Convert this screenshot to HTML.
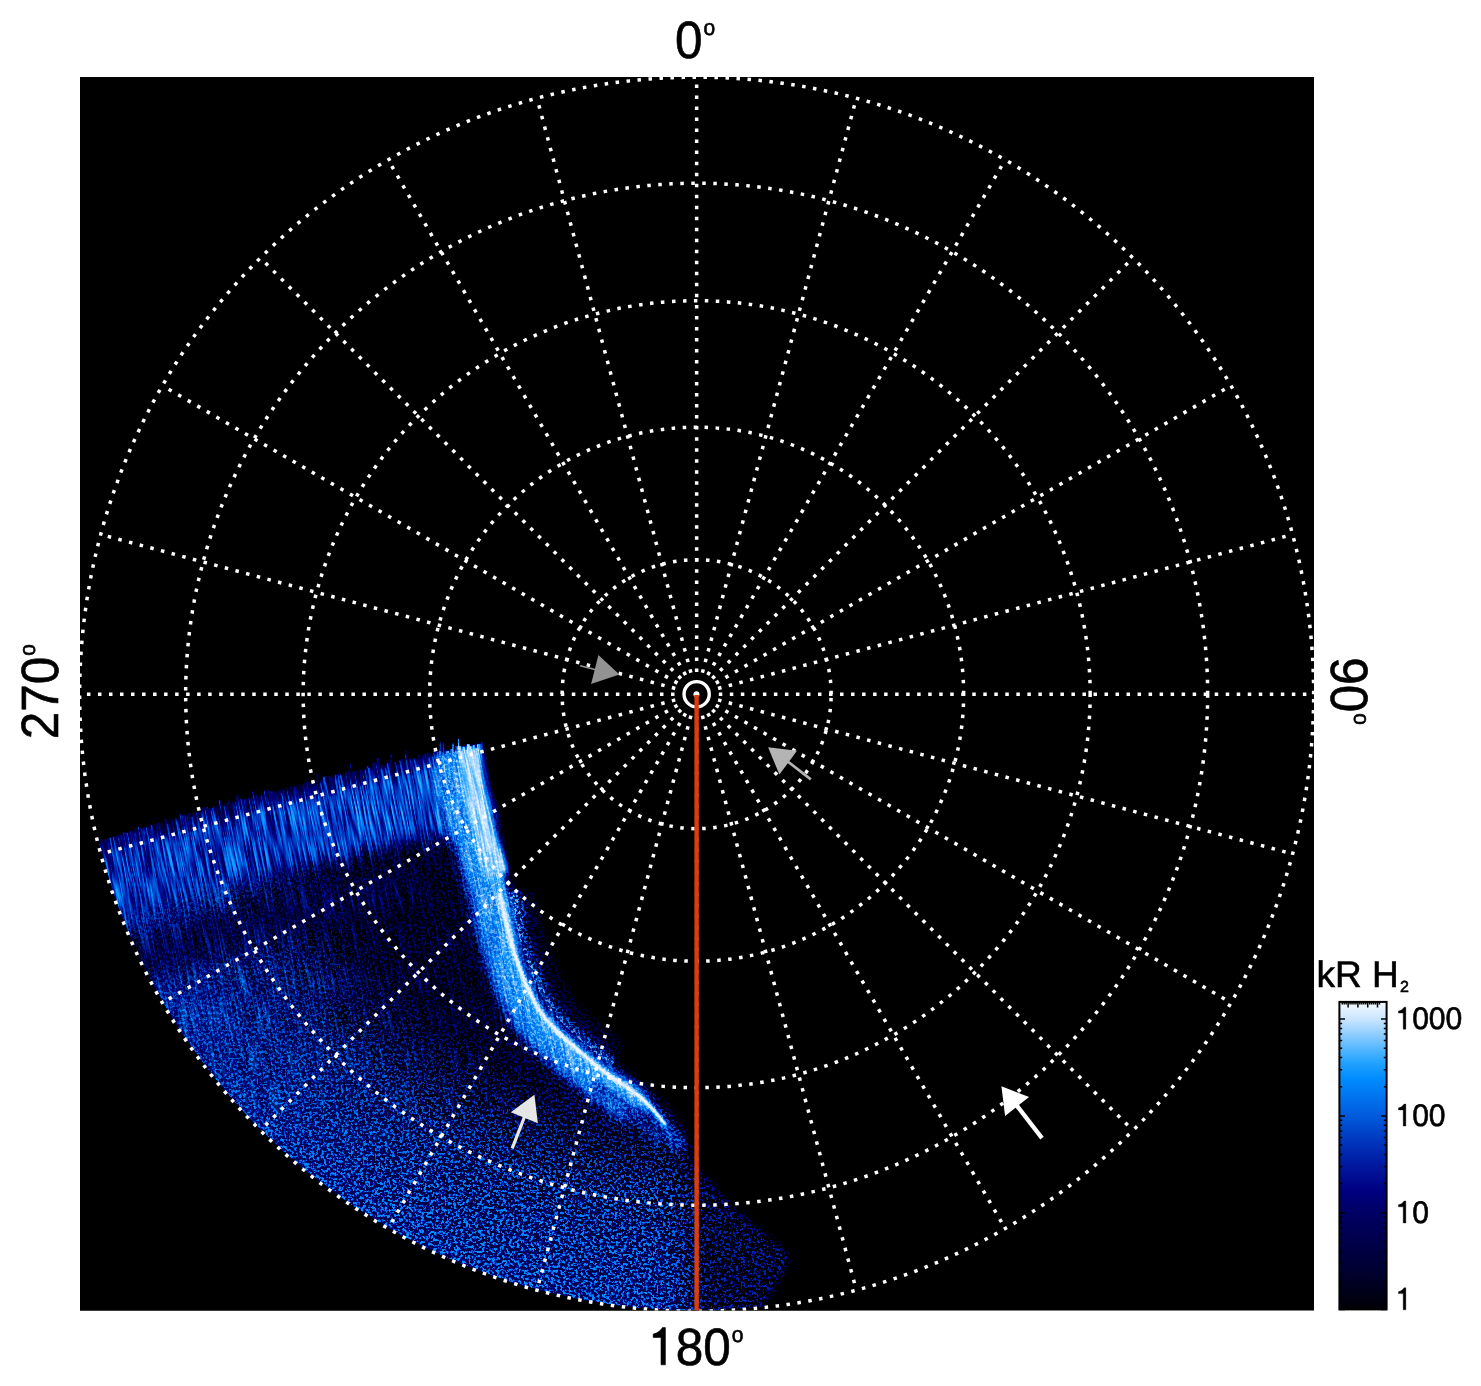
<!DOCTYPE html>
<html><head><meta charset="utf-8"><title>polar projection</title>
<style>
html,body{margin:0;padding:0;background:#fff}
body{width:1481px;height:1386px;overflow:hidden}
svg{display:block}
text{font-family:"Liberation Sans",sans-serif;fill:#000;stroke:#000;stroke-width:0.6px;text-rendering:geometricPrecision}
</style></head><body>
<svg width="1481" height="1386" viewBox="0 0 1481 1386">
<defs>
<clipPath id="frame"><rect x="80.0" y="77.0" width="1234.0" height="1233.5"/></clipPath>
<linearGradient id="cb" x1="0" y1="1" x2="0" y2="0">
<stop offset="0.000" stop-color="rgb(0,0,5)"/>
<stop offset="0.129" stop-color="rgb(0,0,50)"/>
<stop offset="0.314" stop-color="rgb(0,0,100)"/>
<stop offset="0.388" stop-color="rgb(0,0,130)"/>
<stop offset="0.469" stop-color="rgb(0,25,160)"/>
<stop offset="0.518" stop-color="rgb(0,42,178)"/>
<stop offset="0.628" stop-color="rgb(0,90,220)"/>
<stop offset="0.751" stop-color="rgb(0,140,255)"/>
<stop offset="0.809" stop-color="rgb(40,165,255)"/>
<stop offset="0.942" stop-color="rgb(200,228,255)"/>
<stop offset="1.000" stop-color="rgb(245,250,255)"/>
</linearGradient>
<filter id="b1" x="-30%" y="-30%" width="160%" height="160%" color-interpolation-filters="sRGB"><feGaussianBlur stdDeviation="1.2"/></filter>
<filter id="b3" x="-30%" y="-30%" width="160%" height="160%" color-interpolation-filters="sRGB"><feGaussianBlur stdDeviation="3"/></filter>
<filter id="b4" x="-30%" y="-30%" width="160%" height="160%" color-interpolation-filters="sRGB"><feGaussianBlur stdDeviation="4"/></filter>
<filter id="b6" x="-30%" y="-30%" width="160%" height="160%" color-interpolation-filters="sRGB"><feGaussianBlur stdDeviation="6"/></filter>
<filter id="b10" x="-30%" y="-30%" width="160%" height="160%" color-interpolation-filters="sRGB"><feGaussianBlur stdDeviation="10"/></filter>
<filter id="b16" x="-30%" y="-30%" width="160%" height="160%" color-interpolation-filters="sRGB"><feGaussianBlur stdDeviation="16"/></filter>
<filter id="b25" x="-30%" y="-30%" width="160%" height="160%" color-interpolation-filters="sRGB"><feGaussianBlur stdDeviation="25"/></filter>
<mask id="foot" maskUnits="userSpaceOnUse" x="40" y="680" width="820" height="680"><polygon points="96.0,842.0 139.0,829.0 184.0,816.0 229.0,803.0 273.0,792.0 304.0,785.0 349.0,773.0 393.0,763.0 438.0,752.0 484.0,744.0 492.0,787.0 504.0,828.0 511.0,855.0 518.0,884.0 526.0,910.0 526.8,930.8 534.7,957.1 544.7,982.3 556.7,1003.7 570.6,1019.2 593.7,1039.8 616.8,1058.6 640.2,1074.5 660.6,1091.2 679.5,1113.3 691.4,1132.6 697.0,1162.0 736.0,1205.0 793.0,1252.0 791.0,1268.0 773.0,1297.0 763.0,1313.0 763.0,1340.0 40.0,1340.0 40.0,858.0" fill="#fff" filter="url(#b4)"/><path d="M524.2 888.5C525.9 895.3 531.7 918.1 534.7 929.1C537.7 940.1 539.4 946.1 542.2 954.4C545.1 962.7 548.5 971.4 552.0 978.8C555.5 986.3 559.2 993.3 563.3 999.1C567.3 1004.8 570.3 1007.7 576.3 1013.5C582.2 1019.3 591.2 1027.2 598.9 1033.7C606.6 1040.3 618.5 1049.6 622.4 1052.8" fill="none" stroke="#fff" stroke-opacity="0.5" stroke-width="26" filter="url(#b4)"/><polygon points="98.0,844.4 127.5,835.5 157.1,826.8 186.6,818.2 216.2,809.7 245.7,801.8 275.2,794.5 304.8,787.8 334.3,779.9 363.8,772.6 393.4,765.9 422.9,758.7 452.5,752.5 482.0,747.3 482.0,774.3 452.5,779.5 422.9,785.7 393.4,792.9 363.8,799.6 334.3,806.9 304.8,814.8 275.2,821.5 245.7,828.8 216.2,836.7 186.6,845.2 157.1,853.8 127.5,862.5 98.0,871.4" fill="#fff"/><path d="M100.0 846.8v-7.2h2.5v7.2zM104.5 845.4v-6.0h3v6.0zM107.5 844.5v-7.3h2v7.3zM109.5 843.9v-6.6h2v6.6zM112.5 843.0v-6.9h3.5v6.9zM116.0 842.0v-6.0h2v6.0zM119.0 841.0v-6.4h3v6.4zM122.0 840.1v-7.7h2v7.7zM124.0 839.5v-7.2h3v7.2zM127.0 838.6v-6.2h2v6.2zM129.0 838.0v-7.8h2v7.8zM131.0 837.4v-6.4h2v6.4zM135.0 836.2v-8.6h2v8.6zM137.0 835.6v-9.5h2v9.5zM140.0 834.7v-6.4h2.5v6.4zM143.5 833.7v-6.2h2v6.2zM146.0 833.0v-6.1h2.5v6.1zM150.5 831.7v-7.1h3.5v7.1zM154.5 830.5v-6.1h2.5v6.1zM157.5 829.7v-6.8h2.5v6.8zM160.0 828.9v-6.8h2v6.8zM162.0 828.4v-6.4h2v6.4zM164.5 827.6v-8.4h2v8.4zM168.5 826.5v-8.0h2.5v8.0zM172.0 825.5v-7.1h2v7.1zM175.0 824.6v-6.1h2v6.1zM179.0 823.4v-10.1h2v10.1zM181.0 822.9v-7.9h3v7.9zM184.5 821.9v-7.0h3.5v7.0zM188.5 820.7v-8.0h2v8.0zM192.5 819.5v-7.9h2.5v7.9zM195.5 818.7v-6.1h2v6.1zM197.5 818.1v-6.6h3.5v6.6zM201.5 816.9v-9.6h2.5v9.6zM204.5 816.1v-9.7h3.5v9.7zM208.0 815.1v-6.5h2.5v6.5zM211.0 814.2v-6.3h2v6.3zM213.0 813.6v-7.9h2.5v7.9zM216.5 812.6v-6.3h2v6.3zM218.5 812.0v-12.5h3.5v12.5zM223.0 810.7v-6.0h3.5v6.0zM227.0 809.6v-8.7h3v8.7zM231.0 808.5v-6.2h2v6.2zM234.0 807.8v-6.6h2v6.6zM236.0 807.2v-12.3h3.5v12.3zM239.5 806.4v-7.6h3v7.6zM242.5 805.6v-6.3h2.5v6.3zM245.0 805.0v-6.1h3v6.1zM248.5 804.1v-6.3h3.5v6.3zM252.0 803.2v-12.3h3v12.3zM256.0 802.2v-8.0h2.5v8.0zM259.5 801.4v-6.6h3v6.6zM263.5 800.4v-10.1h2v10.1zM266.5 799.6v-9.1h3.5v9.1zM270.0 798.8v-7.8h3v7.8zM273.5 797.9v-6.4h3v6.4zM277.0 797.1v-7.3h3.5v7.3zM282.5 795.9v-6.8h2.5v6.8zM287.0 794.8v-8.1h2.5v8.1zM290.0 794.2v-7.6h2.5v7.6zM293.5 793.4v-6.6h2.5v6.6zM296.5 792.7v-8.1h3.5v8.1zM300.0 791.9v-7.3h2.5v7.3zM303.0 791.2v-8.3h3v8.3zM306.5 790.3v-9.5h2.5v9.5zM309.5 789.5v-6.7h2.5v6.7zM313.0 788.6v-6.9h2v6.9zM316.0 787.8v-14.0h2.5v14.0zM320.5 786.6v-6.3h2v6.3zM322.5 786.1v-10.0h3v10.0zM326.0 785.1v-8.6h3v8.6zM329.0 784.3v-8.2h3.5v8.2zM334.5 782.9v-8.5h3v8.5zM338.0 781.9v-8.3h2.5v8.3zM340.5 781.3v-6.5h3.5v6.5zM345.0 780.1v-8.4h2v8.4zM347.0 779.5v-9.5h2v9.5zM349.0 779.0v-16.0h2v16.0zM351.0 778.5v-6.1h2v6.1zM353.0 778.1v-7.0h2v7.0zM356.0 777.4v-6.5h2v6.5zM359.0 776.7v-7.6h3v7.6zM364.0 775.6v-6.2h2v6.2zM366.0 775.1v-9.3h2.5v9.3zM368.5 774.6v-7.2h2.5v7.2zM372.0 773.8v-11.4h3.5v11.4zM376.0 772.9v-15.2h3.5v15.2zM381.5 771.6v-7.0h2.5v7.0zM386.0 770.6v-8.1h3.5v8.1zM390.0 769.7v-15.2h2v15.2zM393.0 769.0v-7.5h3.5v7.5zM398.5 767.7v-7.4h2v7.4zM400.5 767.2v-8.7h3.5v8.7zM405.0 766.1v-15.7h2v15.7zM409.0 765.1v-6.3h2v6.3zM412.0 764.4v-6.4h3.5v6.4zM417.5 763.0v-8.5h2.5v8.5zM422.0 761.9v-7.6h3v7.6zM425.0 761.2v-8.3h3v8.3zM429.0 760.2v-7.6h2v7.6zM433.0 759.2v-9.1h2.5v9.1zM436.5 758.4v-7.0h2v7.0zM439.0 757.8v-16.0h2.5v16.0zM442.5 757.2v-15.5h2v15.5zM445.5 756.7v-6.1h3.5v6.1zM450.0 755.9v-7.0h2v7.0zM452.0 755.6v-12.5h2v12.5zM455.0 755.0v-8.8h2.5v8.8zM457.5 754.6v-16.0h2v16.0zM459.5 754.3v-8.6h2v8.6zM462.0 753.8v-7.3h3.5v7.3zM466.5 753.0v-8.9h3.5v8.9zM470.0 752.4v-6.1h2v6.1zM472.5 752.0v-7.3h2.5v7.3zM477.0 751.2v-7.4h3.5v7.4zM480.5 750.6v-8.6h2.5v8.6z" fill="#fff"/></mask>
<clipPath id="disk"><circle cx="696.65" cy="694.2" r="616.5"/></clipPath>
<radialGradient id="limb" gradientUnits="userSpaceOnUse" cx="696.65" cy="694.2" r="617"><stop offset="0.64" stop-color="rgb(146,87,0)" stop-opacity="0"/><stop offset="0.81" stop-color="rgb(146,87,0)" stop-opacity="0.9"/><stop offset="0.91" stop-color="rgb(153,79,0)" stop-opacity="1"/><stop offset="1" stop-color="rgb(162,69,0)" stop-opacity="1"/></radialGradient>
<radialGradient id="limbw" gradientUnits="userSpaceOnUse" cx="696.65" cy="694.2" r="617"><stop offset="0.64" stop-color="rgb(146,87,140)" stop-opacity="0"/><stop offset="0.81" stop-color="rgb(146,87,140)" stop-opacity="0.9"/><stop offset="0.91" stop-color="rgb(153,79,140)" stop-opacity="1"/><stop offset="1" stop-color="rgb(162,69,140)" stop-opacity="1"/></radialGradient>
<linearGradient id="wf" gradientUnits="userSpaceOnUse" x1="0" y1="990" x2="0" y2="1190"><stop offset="0" stop-color="#fff"/><stop offset="1" stop-color="#000"/></linearGradient>
<mask id="wfade" maskUnits="userSpaceOnUse" x="40" y="680" width="820" height="680"><rect x="40" y="680" width="820" height="680" fill="url(#wf)"/></mask>
<filter id="aurS" filterUnits="userSpaceOnUse" x="80" y="700" width="760" height="620" color-interpolation-filters="sRGB"><feColorMatrix in="SourceGraphic" type="matrix" values="1 0 0 0 0 1 0 0 0 0 1 0 0 0 0 0 0 0 0 1" result="I"/><feColorMatrix in="SourceGraphic" type="matrix" values="0 1 0 0 0 0 1 0 0 0 0 1 0 0 0 0 0 0 0 1" result="A"/><feTurbulence type="fractalNoise" baseFrequency="0.33" numOctaves="2" seed="7" result="t1"/><feColorMatrix in="t1" type="matrix" values="3.2 0 0 0 -1.1 3.2 0 0 0 -1.1 3.2 0 0 0 -1.1 0 0 0 0 1" result="Na"/><feTurbulence type="fractalNoise" baseFrequency="0.41" numOctaves="2" seed="23" result="t3"/><feColorMatrix in="t3" type="matrix" values="3.2 0 0 0 -1.1 3.2 0 0 0 -1.1 3.2 0 0 0 -1.1 0 0 0 0 1" result="Nb"/><feComposite in="Na" in2="Nb" operator="arithmetic" k1="1.7" k2="0.1" k3="0.1" k4="-0.03" result="N"/><feComposite in="A" in2="N" operator="arithmetic" k1="2" k2="0" k3="0" k4="0" result="X"/><feComposite in="I" in2="A" operator="arithmetic" k1="0" k2="1" k3="-0.7143" k4="0" result="Y"/><feComposite in="X" in2="Y" operator="arithmetic" k1="0" k2="1" k3="1.4" k4="-0.4" result="V"/><feComponentTransfer in="V"><feFuncR type="table" tableValues="0 0.000 0.000 0.000 0.000 0.000 0.000 0.000 0.000 0.000 0.000 0.000 0.000 0.000 0.000 0.000 0.000 0.000 0.000 0.000 0.000 0.000 0.000 0.000 0.000 0.000 0.000 0.000 0.000 0.000 0.000 0.065 0.133 0.232 0.350 0.468 0.586 0.704 0.809 0.885 0.961"/><feFuncG type="table" tableValues="0 0.000 0.000 0.000 0.000 0.000 0.000 0.000 0.000 0.000 0.000 0.000 0.000 0.000 0.000 0.000 0.015 0.045 0.075 0.106 0.140 0.177 0.219 0.262 0.305 0.348 0.388 0.428 0.468 0.508 0.547 0.590 0.632 0.677 0.723 0.770 0.816 0.863 0.906 0.943 0.980"/><feFuncB type="table" tableValues="0 0.054 0.088 0.122 0.156 0.191 0.218 0.245 0.271 0.298 0.324 0.351 0.377 0.410 0.449 0.489 0.527 0.564 0.600 0.636 0.672 0.709 0.746 0.783 0.821 0.858 0.887 0.915 0.943 0.971 0.999 1.000 1.000 1.000 1.000 1.000 1.000 1.000 1.000 1.000 1.000"/></feComponentTransfer></filter>
<filter id="aurK" filterUnits="userSpaceOnUse" x="-177" y="700" width="881" height="620" color-interpolation-filters="sRGB"><feColorMatrix in="SourceGraphic" type="matrix" values="1 0 0 0 0 1 0 0 0 0 1 0 0 0 0 0 0 0 0 1" result="I"/><feColorMatrix in="SourceGraphic" type="matrix" values="0 1 0 0 0 0 1 0 0 0 0 1 0 0 0 0 0 0 0 1" result="A"/><feTurbulence type="fractalNoise" baseFrequency="0.6 0.025" numOctaves="2" seed="11" result="t2"/><feColorMatrix in="t2" type="matrix" values="2.6 0 0 0 -0.8 2.6 0 0 0 -0.8 2.6 0 0 0 -0.8 0 0 0 0 1" result="N"/><feComposite in="A" in2="N" operator="arithmetic" k1="2" k2="0" k3="0" k4="0" result="X"/><feComposite in="I" in2="A" operator="arithmetic" k1="0" k2="1" k3="-0.7143" k4="0" result="Y"/><feComposite in="X" in2="Y" operator="arithmetic" k1="0" k2="1" k3="1.4" k4="-0.4" result="V"/><feComponentTransfer in="V"><feFuncR type="table" tableValues="0 0.000 0.000 0.000 0.000 0.000 0.000 0.000 0.000 0.000 0.000 0.000 0.000 0.000 0.000 0.000 0.000 0.000 0.000 0.000 0.000 0.000 0.000 0.000 0.000 0.000 0.000 0.000 0.000 0.000 0.000 0.065 0.133 0.232 0.350 0.468 0.586 0.704 0.809 0.885 0.961"/><feFuncG type="table" tableValues="0 0.000 0.000 0.000 0.000 0.000 0.000 0.000 0.000 0.000 0.000 0.000 0.000 0.000 0.000 0.000 0.015 0.045 0.075 0.106 0.140 0.177 0.219 0.262 0.305 0.348 0.388 0.428 0.468 0.508 0.547 0.590 0.632 0.677 0.723 0.770 0.816 0.863 0.906 0.943 0.980"/><feFuncB type="table" tableValues="0 0.054 0.088 0.122 0.156 0.191 0.218 0.245 0.271 0.298 0.324 0.351 0.377 0.410 0.449 0.489 0.527 0.564 0.600 0.636 0.672 0.709 0.746 0.783 0.821 0.858 0.887 0.915 0.943 0.971 0.999 1.000 1.000 1.000 1.000 1.000 1.000 1.000 1.000 1.000 1.000"/></feComponentTransfer></filter>
<filter id="exW" filterUnits="userSpaceOnUse" x="80" y="700" width="760" height="620" color-interpolation-filters="sRGB"><feColorMatrix type="matrix" values="0 0 1 0 0 0 0 1 0 0 0 0 1 0 0 0 0 0 0 1"/></filter>
<mask id="wmask" maskUnits="userSpaceOnUse" x="80" y="700" width="760" height="620"><use href="#adata" filter="url(#exW)"/></mask>
<g id="adata">
<rect x="-220" y="680" width="1360" height="660" fill="#000"/>
<g clip-path="url(#disk)"><g mask="url(#foot)">
<rect x="40" y="700" width="800" height="640" fill="rgb(69,107,26)"/>
<rect x="40" y="700" width="800" height="640" fill="url(#limb)"/>
<g mask="url(#wfade)">
<rect x="40" y="700" width="800" height="640" fill="rgb(69,107,128)"/>
<rect x="40" y="700" width="800" height="640" fill="url(#limbw)"/>
</g>
<polygon points="685.0,1100.0 860.0,1180.0 860.0,1340.0 690.0,1340.0" fill="rgb(69,107,0)" opacity="0.68" filter="url(#b16)"/>
<polygon points="40.0,962.0 69.2,953.6 98.5,945.3 127.7,936.4 156.9,927.8 186.2,919.4 215.4,910.9 244.6,903.1 273.8,895.8 303.1,889.2 332.3,881.5 361.5,874.2 390.8,867.5 420.0,860.4 420.0,908.4 390.8,915.5 361.5,922.2 332.3,929.5 303.1,937.2 273.8,943.8 244.6,951.1 215.4,958.9 186.2,967.4 156.9,975.8 127.7,984.4 98.5,993.3 69.2,1001.6 40.0,1010.0" fill="rgb(109,76,178)" opacity="0.9" filter="url(#b10)"/>
<polygon points="40.0,828.0 70.0,819.4 100.0,810.8 130.0,801.7 160.0,792.9 190.0,784.3 220.0,775.6 250.0,767.8 280.0,760.4 310.0,753.4 340.0,745.4 370.0,738.2 400.0,731.3 430.0,724.0 460.0,718.2 490.0,713.2 520.0,709.3 520.0,823.3 490.0,827.2 460.0,832.2 430.0,838.0 400.0,845.3 370.0,852.2 340.0,859.4 310.0,867.4 280.0,874.4 250.0,881.8 220.0,889.6 190.0,898.3 160.0,906.9 130.0,915.7 100.0,924.8 70.0,933.4 40.0,942.0" fill="rgb(169,66,255)" filter="url(#b10)"/>
<polygon points="300.0,795.9 328.3,788.5 356.7,781.3 385.0,774.8 413.3,768.0 441.7,761.4 470.0,756.4 470.0,826.4 441.7,831.4 413.3,838.0 385.0,844.8 356.7,851.3 328.3,858.5 300.0,865.9" fill="rgb(182,64,255)" opacity="0.7" filter="url(#b16)"/>
<polygon points="40.0,846.0 70.8,837.2 101.5,828.3 132.3,819.0 163.1,810.0 193.8,801.2 224.6,792.3 255.4,784.4 286.2,777.0 316.9,769.6 347.7,761.3 378.5,754.3 409.2,747.0 440.0,739.7 440.0,764.7 409.2,772.0 378.5,779.3 347.7,786.3 316.9,794.6 286.2,802.0 255.4,809.4 224.6,817.3 193.8,826.2 163.1,835.0 132.3,844.0 101.5,853.3 70.8,862.2 40.0,871.0" fill="rgb(118,76,255)" opacity="0.6" filter="url(#b4)"/>
<path d="M524.2 888.5C525.9 895.3 531.7 918.1 534.7 929.1C537.7 940.1 539.4 946.1 542.2 954.4C545.1 962.7 548.5 971.4 552.0 978.8C555.5 986.3 559.2 993.3 563.3 999.1C567.3 1004.8 570.3 1007.7 576.3 1013.5C582.2 1019.3 591.2 1027.2 598.9 1033.7C606.6 1040.3 618.5 1049.6 622.4 1052.8" fill="none" stroke="rgb(168,115,76)" stroke-width="34"/>
<path d="M454.0 745.0C454.5 752.8 455.0 778.7 457.0 792.0C459.0 805.3 462.8 814.5 466.0 825.0C469.2 835.5 472.5 842.5 476.0 855.0C479.5 867.5 483.4 885.7 487.0 900.0C490.6 914.3 494.5 929.7 497.6 941.0C500.7 952.3 502.6 959.0 505.7 968.0C508.9 977.0 512.5 986.5 516.5 995.0C520.5 1003.5 525.1 1012.0 530.0 1019.0C534.9 1026.0 539.3 1030.4 546.0 1037.0C552.7 1043.6 562.0 1051.7 570.0 1058.5C578.0 1065.3 586.1 1072.1 594.0 1078.0C601.9 1083.9 610.5 1088.8 617.5 1094.0C624.5 1099.2 632.9 1106.5 636.0 1109.0" fill="none" stroke="rgb(213,41,128)" stroke-width="40" filter="url(#b6)"/>
<path d="M640.0 1100.0C643.0 1103.2 651.7 1111.5 658.0 1119.0C664.3 1126.5 674.7 1140.7 678.0 1145.0" fill="none" stroke="rgb(186,51,76)" stroke-width="15" stroke-linecap="round" filter="url(#b4)"/>
<path d="M598.0 1086.0C603.0 1090.0 618.0 1101.0 628.0 1110.0C638.0 1119.0 653.0 1135.0 658.0 1140.0" fill="none" stroke="rgb(168,64,76)" stroke-width="11" stroke-linecap="round" filter="url(#b4)"/>
<path d="M468.0 730.0C468.2 732.8 468.0 737.5 469.0 747.0C470.0 756.5 471.5 773.5 474.0 787.0C476.5 800.5 481.0 816.7 484.0 828.0C487.0 839.3 489.5 847.0 492.0 855.0C494.5 863.0 497.8 872.5 499.0 876.0" fill="none" stroke="rgb(242,26,204)" stroke-width="24" filter="url(#b3)"/>
<path d="M490.0 855.0C491.7 860.0 497.2 875.0 500.0 885.0C502.8 895.0 505.0 905.0 507.0 915.0C509.0 925.0 511.2 940.0 512.0 945.0" fill="none" stroke="rgb(233,26,153)" stroke-width="11" stroke-linecap="round" filter="url(#b3)"/>
<path d="M506.6 937.0C508.0 941.5 511.6 955.0 514.7 964.0C517.9 973.0 521.5 982.5 525.5 991.0C529.5 999.5 534.1 1008.0 539.0 1015.0C543.9 1022.0 548.3 1026.4 555.0 1033.0C561.7 1039.6 571.0 1047.7 579.0 1054.5C587.0 1061.3 595.1 1068.1 603.0 1074.0C610.9 1079.9 619.5 1084.8 626.5 1090.0C633.5 1095.2 641.9 1102.5 645.0 1105.0" fill="none" stroke="rgb(226,28,128)" stroke-width="12" stroke-linecap="round" filter="url(#b4)"/>
<path d="M499.0 895.0C500.8 901.8 506.5 924.7 509.6 936.0C512.7 947.3 514.6 954.0 517.7 963.0C520.9 972.0 524.5 981.5 528.5 990.0C532.5 998.5 537.1 1007.0 542.0 1014.0C546.9 1021.0 551.3 1025.4 558.0 1032.0C564.7 1038.6 574.0 1046.7 582.0 1053.5C590.0 1060.3 598.1 1067.1 606.0 1073.0C613.9 1078.9 622.5 1083.8 629.5 1089.0C636.5 1094.2 642.1 1098.2 648.0 1104.0C653.9 1109.8 662.2 1120.7 665.0 1124.0" fill="none" stroke="rgb(255,8,76)" stroke-width="4.6" stroke-linecap="round" filter="url(#b1)"/>
</g></g>
</g>
</defs>
<rect x="0" y="0" width="1481" height="1386" fill="#fff"/>
<rect x="80.0" y="77.0" width="1234.0" height="1233.5" fill="#000"/>
<g clip-path="url(#frame)">
<g filter="url(#aurS)"><use href="#adata"/></g>
<g mask="url(#wmask)"><g transform="skewX(11)"><g filter="url(#aurK)"><g transform="skewX(-11)"><use href="#adata"/></g></g></g></g>
<g fill="none" stroke="#fff" stroke-width="3.5" stroke-dasharray="3.5 7.52">
<g transform="translate(696.65,694.2) scale(1,-1)">
<circle cx="0" cy="0" r="617.0"/>
<circle cx="0" cy="0" r="511.0"/>
<circle cx="0" cy="0" r="393.5"/>
<circle cx="0" cy="0" r="267.0"/>
<circle cx="0" cy="0" r="134.5"/>
</g>
<line x1="696.65" y1="672.05" x2="696.65" y2="77.20"/>
<line x1="702.38" y1="672.80" x2="856.34" y2="98.22"/>
<line x1="707.73" y1="675.02" x2="1005.15" y2="159.86"/>
<line x1="712.31" y1="678.54" x2="1132.93" y2="257.92"/>
<line x1="715.83" y1="683.12" x2="1230.99" y2="385.70"/>
<line x1="718.05" y1="688.47" x2="1292.63" y2="534.51"/>
<line x1="718.80" y1="694.20" x2="1313.65" y2="694.20"/>
<line x1="718.05" y1="699.93" x2="1292.63" y2="853.89"/>
<line x1="715.83" y1="705.28" x2="1230.99" y2="1002.70"/>
<line x1="712.31" y1="709.86" x2="1132.93" y2="1130.48"/>
<line x1="707.73" y1="713.38" x2="1005.15" y2="1228.54"/>
<line x1="702.38" y1="715.60" x2="856.34" y2="1290.18"/>
<line x1="696.65" y1="716.35" x2="696.65" y2="1311.20"/>
<line x1="690.92" y1="715.60" x2="536.96" y2="1290.18"/>
<line x1="685.57" y1="713.38" x2="388.15" y2="1228.54"/>
<line x1="680.99" y1="709.86" x2="260.37" y2="1130.48"/>
<line x1="677.47" y1="705.28" x2="162.31" y2="1002.70"/>
<line x1="675.25" y1="699.93" x2="100.67" y2="853.89"/>
<line x1="674.50" y1="694.20" x2="79.65" y2="694.20"/>
<line x1="675.25" y1="688.47" x2="100.67" y2="534.51"/>
<line x1="677.47" y1="683.12" x2="162.31" y2="385.70"/>
<line x1="680.99" y1="678.54" x2="260.37" y2="257.92"/>
<line x1="685.57" y1="675.02" x2="388.15" y2="159.86"/>
<line x1="690.92" y1="672.80" x2="536.96" y2="98.22"/>
</g>
<circle cx="696.65" cy="694.2" r="12.6" fill="none" stroke="#fff" stroke-width="3.4"/>
<circle cx="696.4499999999999" cy="694.3000000000001" r="3.0" fill="#fff"/>
<line x1="696.6" y1="695.1" x2="696.6" y2="1311.5" stroke="#dd3d0a" stroke-width="4.4"/>
<line x1="580.1" y1="665.8" x2="596" y2="669.7" stroke="#929292" stroke-width="1.6"/>
<polygon points="598.4,655.0 591.1,683.9 619.4,674.4" fill="#929292"/>
<line x1="788.0" y1="761.7" x2="810.8" y2="779.4" stroke="#b4b4b4" stroke-width="2.7"/>
<polygon points="768.1,747.3 797.0,750.8 779.4,774.6" fill="#b4b4b4"/>
<line x1="524.4" y1="1117.0" x2="512.2" y2="1148.4" stroke="#e6e6e6" stroke-width="3.2"/>
<polygon points="534.4,1094.7 510.8,1112.3 537.9,1123.3" fill="#e6e6e6"/>
<line x1="1016.8" y1="1105.6" x2="1042.0" y2="1138.1" stroke="#fff" stroke-width="4.3"/>
<polygon points="1001.4,1086.2 1029.1,1097.1 1005.1,1115.9" fill="#fff"/>
</g>
<g opacity="0.995" transform="translate(675.0,57.8) rotate(0) scale(1,1.06)"><text x="0.00" y="0" font-size="49.5" stroke-width="0.6">0</text><text x="28.42" y="-21.3" font-size="21" stroke-width="0.4">o</text></g>
<g opacity="0.995" transform="translate(648.2,1364.8) rotate(0) scale(1,1.06)"><path transform="translate(0.00,0) scale(0.04950)" d="M101 -522L101 -585C190 -600 250 -650 288 -709L347 -709L347 0L259 0L259 -522Z" stroke="#000" stroke-width="12.1" stroke-linejoin="miter"/><text x="27.52" y="0" font-size="49.5" stroke-width="0.6">80</text><text x="83.47" y="-21.3" font-size="21" stroke-width="0.4">o</text></g>
<g opacity="0.995" transform="translate(57.7,739.2) rotate(-90) scale(1,1.06)"><text x="0.00" y="0" font-size="49.5" stroke-width="0.6">270</text><text x="83.47" y="-21.3" font-size="21" stroke-width="0.4">o</text></g>
<g opacity="0.995" transform="translate(1331.4,657.2) rotate(90) scale(1,1.06)"><text x="0.00" y="0" font-size="49.5" stroke-width="0.6">90</text><text x="55.94" y="-21.3" font-size="21" stroke-width="0.4">o</text></g>
<rect x="1339.4" y="1001.9" width="47.20" height="307.50" fill="url(#cb)" stroke="#000" stroke-width="2"/>
<path d="M1339.4 1309.60h5.6M1386.6 1309.60h-5.6M1339.4 1280.45h2.8M1386.6 1280.45h-2.8M1339.4 1263.39h2.8M1386.6 1263.39h-2.8M1339.4 1251.29h2.8M1386.6 1251.29h-2.8M1339.4 1241.90h2.8M1386.6 1241.90h-2.8M1339.4 1234.24h2.8M1386.6 1234.24h-2.8M1339.4 1227.75h2.8M1386.6 1227.75h-2.8M1339.4 1222.14h2.8M1386.6 1222.14h-2.8M1339.4 1217.18h2.8M1386.6 1217.18h-2.8M1339.4 1212.75h5.6M1386.6 1212.75h-5.6M1339.4 1183.60h2.8M1386.6 1183.60h-2.8M1339.4 1166.54h2.8M1386.6 1166.54h-2.8M1339.4 1154.44h2.8M1386.6 1154.44h-2.8M1339.4 1145.05h2.8M1386.6 1145.05h-2.8M1339.4 1137.39h2.8M1386.6 1137.39h-2.8M1339.4 1130.90h2.8M1386.6 1130.90h-2.8M1339.4 1125.29h2.8M1386.6 1125.29h-2.8M1339.4 1120.33h2.8M1386.6 1120.33h-2.8M1339.4 1115.90h5.6M1386.6 1115.90h-5.6M1339.4 1086.75h2.8M1386.6 1086.75h-2.8M1339.4 1069.69h2.8M1386.6 1069.69h-2.8M1339.4 1057.59h2.8M1386.6 1057.59h-2.8M1339.4 1048.20h2.8M1386.6 1048.20h-2.8M1339.4 1040.54h2.8M1386.6 1040.54h-2.8M1339.4 1034.05h2.8M1386.6 1034.05h-2.8M1339.4 1028.44h2.8M1386.6 1028.44h-2.8M1339.4 1023.48h2.8M1386.6 1023.48h-2.8M1339.4 1019.05h5.6M1386.6 1019.05h-5.6M1342.22 1001.9v2.6M1344.18 1001.9v2.6M1346.14 1001.9v2.6M1348.10 1001.9v5.6M1350.06 1001.9v2.6M1352.02 1001.9v2.6M1353.98 1001.9v2.6M1355.94 1001.9v2.6M1357.90 1001.9v5.6M1359.86 1001.9v2.6M1361.82 1001.9v2.6M1363.78 1001.9v2.6M1365.74 1001.9v2.6M1367.70 1001.9v5.6M1369.66 1001.9v2.6M1371.62 1001.9v2.6M1373.58 1001.9v2.6M1375.54 1001.9v2.6M1377.50 1001.9v5.6M1379.46 1001.9v2.6" stroke="#000" stroke-width="1.5" fill="none"/>
<g opacity="0.995" transform="translate(1395.4,1029.2) scale(1,1.03)"><path transform="translate(0.00,0) scale(0.03010)" d="M101 -522L101 -585C190 -600 250 -650 288 -709L347 -709L347 0L259 0L259 -522Z" stroke="#000" stroke-width="11.6" stroke-linejoin="miter"/><text x="16.74" y="0" font-size="30.1" stroke-width="0.35">000</text></g>
<g opacity="0.995" transform="translate(1395.4,1126.1) scale(1,1.03)"><path transform="translate(0.00,0) scale(0.03010)" d="M101 -522L101 -585C190 -600 250 -650 288 -709L347 -709L347 0L259 0L259 -522Z" stroke="#000" stroke-width="11.6" stroke-linejoin="miter"/><text x="16.74" y="0" font-size="30.1" stroke-width="0.35">00</text></g>
<g opacity="0.995" transform="translate(1395.4,1223.0) scale(1,1.03)"><path transform="translate(0.00,0) scale(0.03010)" d="M101 -522L101 -585C190 -600 250 -650 288 -709L347 -709L347 0L259 0L259 -522Z" stroke="#000" stroke-width="11.6" stroke-linejoin="miter"/><text x="16.74" y="0" font-size="30.1" stroke-width="0.35">0</text></g>
<g opacity="0.995" transform="translate(1395.4,1309.8) scale(1,1.03)"><path transform="translate(0.00,0) scale(0.03010)" d="M101 -522L101 -585C190 -600 250 -650 288 -709L347 -709L347 0L259 0L259 -522Z" stroke="#000" stroke-width="11.6" stroke-linejoin="miter"/></g>
<text opacity="0.995" x="1316.5" y="986.9" font-size="37">kR H<tspan font-size="16" dy="4.8" dx="1.2">2</tspan></text>
</svg></body></html>
